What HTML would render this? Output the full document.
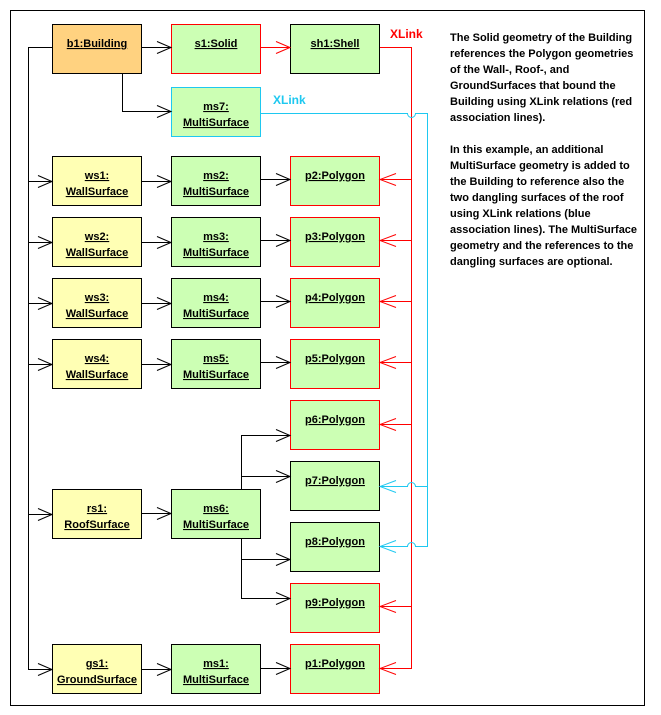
<!DOCTYPE html>
<html><head><meta charset="utf-8"><style>
html,body{margin:0;padding:0;background:#fff}
svg{display:block}
text{font-family:"Liberation Sans",Arial,sans-serif;font-weight:bold;font-size:11px;fill:#000}
.t{font-size:11px}
</style></head><body>
<svg width="661" height="715" viewBox="0 0 661 715" xmlns="http://www.w3.org/2000/svg">
<rect x="10.5" y="10.5" width="634" height="695" fill="none" stroke="#000"/>
<g stroke-width="1">
<rect x="52.5" y="24.5" width="89" height="49" fill="#ffd280" stroke="#000"/>
<rect x="171.5" y="24.5" width="89" height="49" fill="#ccffb4" stroke="#f00"/>
<rect x="290.5" y="24.5" width="89" height="49" fill="#ccffb4" stroke="#000"/>
<rect x="171.5" y="87.5" width="89" height="49" fill="#ccffb4" stroke="#1ec8f0"/>
<rect x="52.5" y="156.5" width="89" height="49" fill="#ffffb4" stroke="#000"/>
<rect x="52.5" y="217.5" width="89" height="49" fill="#ffffb4" stroke="#000"/>
<rect x="52.5" y="278.5" width="89" height="49" fill="#ffffb4" stroke="#000"/>
<rect x="52.5" y="339.5" width="89" height="49" fill="#ffffb4" stroke="#000"/>
<rect x="52.5" y="489.5" width="89" height="49" fill="#ffffb4" stroke="#000"/>
<rect x="52.5" y="644.5" width="89" height="49" fill="#ffffb4" stroke="#000"/>
<rect x="171.5" y="156.5" width="89" height="49" fill="#ccffb4" stroke="#000"/>
<rect x="171.5" y="217.5" width="89" height="49" fill="#ccffb4" stroke="#000"/>
<rect x="171.5" y="278.5" width="89" height="49" fill="#ccffb4" stroke="#000"/>
<rect x="171.5" y="339.5" width="89" height="49" fill="#ccffb4" stroke="#000"/>
<rect x="171.5" y="489.5" width="89" height="49" fill="#ccffb4" stroke="#000"/>
<rect x="171.5" y="644.5" width="89" height="49" fill="#ccffb4" stroke="#000"/>
<rect x="290.5" y="156.5" width="89" height="49" fill="#ccffb4" stroke="#f00"/>
<rect x="290.5" y="217.5" width="89" height="49" fill="#ccffb4" stroke="#f00"/>
<rect x="290.5" y="278.5" width="89" height="49" fill="#ccffb4" stroke="#f00"/>
<rect x="290.5" y="339.5" width="89" height="49" fill="#ccffb4" stroke="#f00"/>
<rect x="290.5" y="400.5" width="89" height="49" fill="#ccffb4" stroke="#f00"/>
<rect x="290.5" y="461.5" width="89" height="49" fill="#ccffb4" stroke="#000"/>
<rect x="290.5" y="522.5" width="89" height="49" fill="#ccffb4" stroke="#000"/>
<rect x="290.5" y="583.5" width="89" height="49" fill="#ccffb4" stroke="#f00"/>
<rect x="290.5" y="644.5" width="89" height="49" fill="#ccffb4" stroke="#f00"/>
</g>
<g fill="none" stroke="#000">
<path d="M52 47.5H28.5V669.5H52"/>
<path d="M28.5 181.5H52M28.5 242.5H52M28.5 303.5H52M28.5 364.5H52M28.5 514.5H52"/>
<path d="M141 47.5H171M122.5 74V111.5H171"/>
<path d="M141 181.5H171M141 242.5H171M141 303.5H171M141 364.5H171M141 513.5H171M141 669.5H171"/>
<path d="M260 179.5H290M260 240.5H290M260 301.5H290M260 362.5H290M260 668.5H290"/>
<path d="M241.5 489V435.5H290M241.5 476.5H290M241.5 539V598.5H290M241.5 559.5H290"/>
<path d="M157 41.5L171 47.5L157 53.5M157 105.5L171 111.5L157 117.5"/>
<path d="M38 175.5L52 181.5L38 187.5M38 236.5L52 242.5L38 248.5M38 297.5L52 303.5L38 309.5M38 358.5L52 364.5L38 370.5M38 508.5L52 514.5L38 520.5M38 663.5L52 669.5L38 675.5"/>
<path d="M157 175.5L171 181.5L157 187.5M157 236.5L171 242.5L157 248.5M157 297.5L171 303.5L157 309.5M157 358.5L171 364.5L157 370.5M157 507.5L171 513.5L157 519.5M157 663.5L171 669.5L157 675.5"/>
<path d="M276 173.5L290 179.5L276 185.5M276 234.5L290 240.5L276 246.5M276 295.5L290 301.5L276 307.5M276 356.5L290 362.5L276 368.5M276 662.5L290 668.5L276 674.5"/>
<path d="M276 429.5L290 435.5L276 441.5M276 470.5L290 476.5L276 482.5M276 553.5L290 559.5L276 565.5M276 592.5L290 598.5L276 604.5"/>
</g>
<g fill="none" stroke="#f00">
<path d="M260 47.5H290M276 41.5L290 47.5L276 53.5"/>
<path d="M380 47.5H411.5V668.5H380"/>
<path d="M380 179.5H411.5M380 240.5H411.5M380 301.5H411.5M380 362.5H411.5M380 424.5H411.5M380 606.5H411.5"/>
<path d="M396 173.5L380 179.5L396 185.5M396 234.5L380 240.5L396 246.5M396 295.5L380 301.5L396 307.5M396 356.5L380 362.5L396 368.5M396 418.5L380 424.5L396 430.5M396 600.5L380 606.5L396 612.5M396 662.5L380 668.5L396 674.5"/>
</g>
<g fill="none" stroke="#1ec8f0">
<path d="M260 113.5H407.5A4 4 0 0 0 415.5 113.5H427.5V546.5H415.5A4 4 0 0 0 407.5 546.5H380"/>
<path d="M427.5 486.5H415.5A4 4 0 0 0 407.5 486.5H380"/>
<path d="M396 480.5L380 486.5L396 492.5M396 540.5L380 546.5L396 552.5"/>
</g>
<text x="390" y="38" style="fill:#f00;font-size:12px">XLink</text>
<text x="273" y="104" style="fill:#1ec8f0;font-size:12px">XLink</text>
<g text-anchor="middle" text-decoration="underline">
<text x="97" y="47">b1:Building</text>
<text x="216" y="47">s1:Solid</text>
<text x="335" y="47">sh1:Shell</text>
<text x="216" y="110">ms7:</text><text x="216" y="126">MultiSurface</text>
<text x="97" y="179">ws1:</text><text x="97" y="195">WallSurface</text>
<text x="97" y="240">ws2:</text><text x="97" y="256">WallSurface</text>
<text x="97" y="301">ws3:</text><text x="97" y="317">WallSurface</text>
<text x="97" y="362">ws4:</text><text x="97" y="378">WallSurface</text>
<text x="97" y="512">rs1:</text><text x="97" y="528">RoofSurface</text>
<text x="97" y="667">gs1:</text><text x="97" y="683">GroundSurface</text>
<text x="216" y="179">ms2:</text><text x="216" y="195">MultiSurface</text>
<text x="216" y="240">ms3:</text><text x="216" y="256">MultiSurface</text>
<text x="216" y="301">ms4:</text><text x="216" y="317">MultiSurface</text>
<text x="216" y="362">ms5:</text><text x="216" y="378">MultiSurface</text>
<text x="216" y="512">ms6:</text><text x="216" y="528">MultiSurface</text>
<text x="216" y="667">ms1:</text><text x="216" y="683">MultiSurface</text>
<text x="335" y="179">p2:Polygon</text>
<text x="335" y="240">p3:Polygon</text>
<text x="335" y="301">p4:Polygon</text>
<text x="335" y="362">p5:Polygon</text>
<text x="335" y="423">p6:Polygon</text>
<text x="335" y="484">p7:Polygon</text>
<text x="335" y="545">p8:Polygon</text>
<text x="335" y="606">p9:Polygon</text>
<text x="335" y="667">p1:Polygon</text>
</g>
<g>
<text class="t" x="450" y="41">The Solid geometry of the Building</text>
<text class="t" x="450" y="57">references the Polygon geometries</text>
<text class="t" x="450" y="73">of the Wall-, Roof-, and</text>
<text class="t" x="450" y="89">GroundSurfaces that bound the</text>
<text class="t" x="450" y="105">Building using XLink relations (red</text>
<text class="t" x="450" y="121">association lines).</text>
<text class="t" x="450" y="153">In this example, an additional</text>
<text class="t" x="450" y="169">MultiSurface geometry is added to</text>
<text class="t" x="450" y="185">the Building to reference also the</text>
<text class="t" x="450" y="201">two dangling surfaces of the roof</text>
<text class="t" x="450" y="217">using XLink relations (blue</text>
<text class="t" x="450" y="233">association lines). The MultiSurface</text>
<text class="t" x="450" y="249">geometry and the references to the</text>
<text class="t" x="450" y="265">dangling surfaces are optional.</text>
</g>
</svg>
</body></html>
